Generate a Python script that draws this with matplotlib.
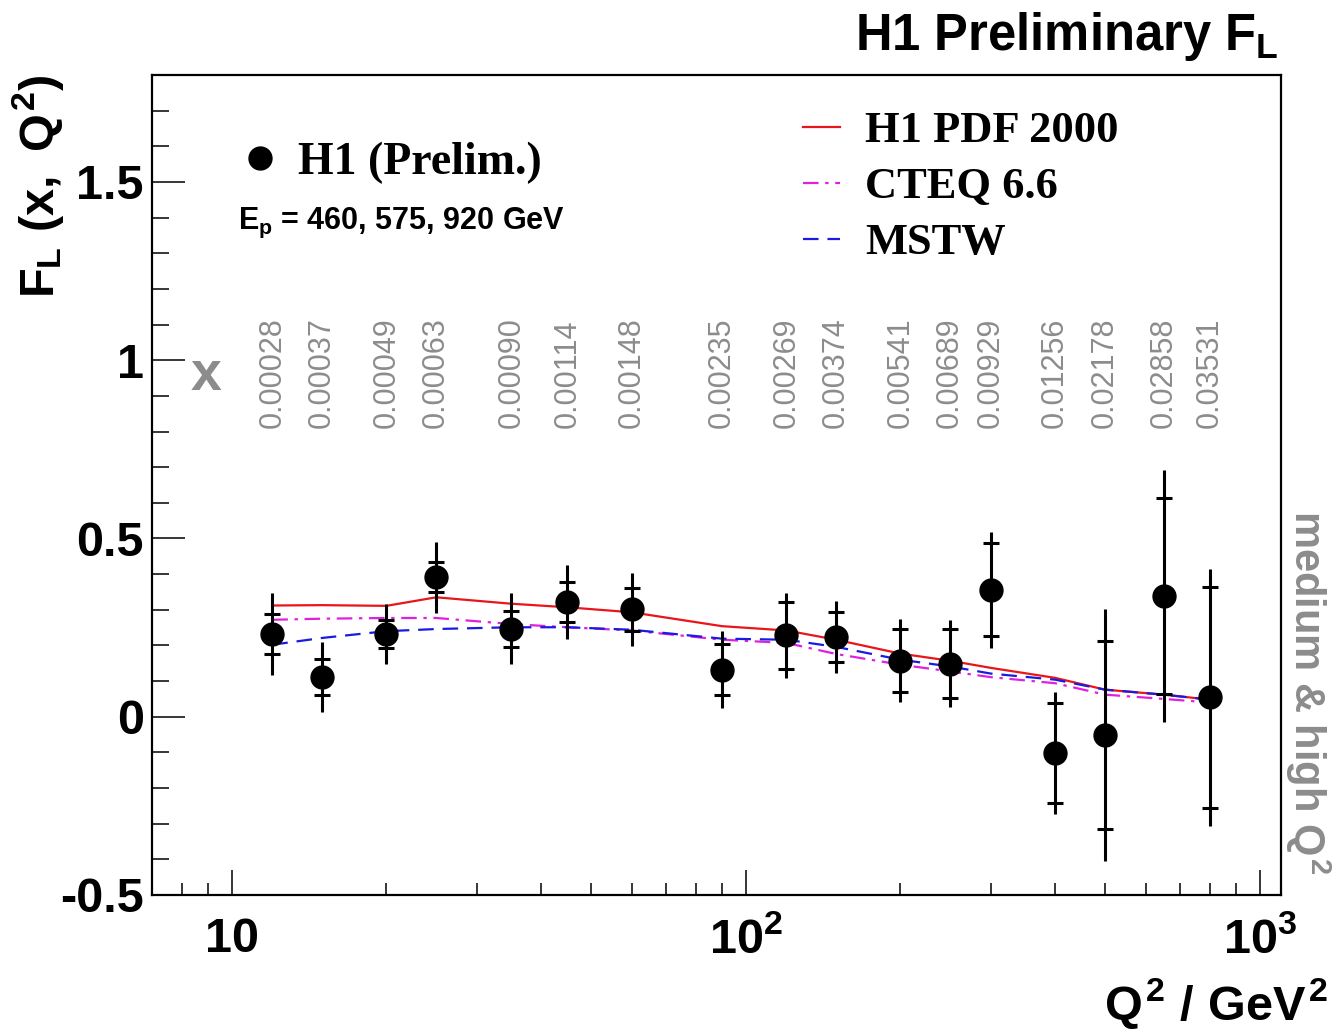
import matplotlib
matplotlib.use('Agg')
from matplotlib import pyplot as plt

# H1 preliminary F_L, medium & high Q2
q2 = [12, 15, 20, 25, 35, 45, 60, 90, 120, 150, 200, 250, 300, 400, 500, 650, 800]
fl = [0.233, 0.111, 0.232, 0.391, 0.247, 0.322, 0.301, 0.132, 0.228, 0.224,
      0.157, 0.149, 0.356, -0.102, -0.051, 0.338, 0.054]
stat = [0.056, 0.051, 0.040, 0.042, 0.050, 0.056, 0.060, 0.071, 0.094, 0.070,
        0.088, 0.096, 0.130, 0.140, 0.264, 0.275, 0.310]
tot = [0.115, 0.099, 0.085, 0.099, 0.100, 0.103, 0.103, 0.108, 0.120, 0.100,
       0.116, 0.123, 0.163, 0.170, 0.353, 0.353, 0.360]
xbj = ['0.00028', '0.00037', '0.00049', '0.00063', '0.00090', '0.00114', '0.00148',
       '0.00235', '0.00269', '0.00374', '0.00541', '0.00689', '0.00929', '0.01256',
       '0.02178', '0.02858', '0.03531']

h1pdf = [0.312, 0.313, 0.311, 0.335, 0.317, 0.307, 0.293, 0.254, 0.242, 0.216,
         0.177, 0.157, 0.137, 0.109, 0.076, 0.062, 0.048]
cteq = [0.272, 0.275, 0.277, 0.277, 0.260, 0.251, 0.242, 0.216, 0.207, 0.176,
        0.146, 0.127, 0.111, 0.094, 0.062, 0.050, 0.040]
mstw = [0.202, 0.221, 0.240, 0.246, 0.251, 0.251, 0.244, 0.219, 0.216, 0.196,
        0.160, 0.141, 0.121, 0.104, 0.076, 0.062, 0.048]

yticks = [-0.5, 0, 0.5, 1, 1.5]
yticklabels = ['-0.5', '0', '0.5', '1', '1.5']
xticks = [10, 100, 1000]
xticklabels = ['10', r'$10^{2}$', r'$10^{3}$']

plt.rcParams['font.family'] = 'Liberation Sans'
plt.rcParams['font.weight'] = 'bold'
plt.rcParams['mathtext.fontset'] = 'custom'
plt.rcParams['mathtext.rm'] = 'Liberation Sans:bold'
plt.rcParams['mathtext.it'] = 'Liberation Sans:bold'
plt.rcParams['mathtext.bf'] = 'Liberation Sans:bold'

W, H = 1334, 1033
fig = plt.figure(figsize=(W / 100, H / 100), dpi=100)
ax = fig.add_axes([152 / W, 1 - 895 / H, (1281 - 152) / W, (895 - 75) / H])

l1, = ax.plot(q2, h1pdf, color='#e8161b', lw=1.6, label='H1 PDF 2000')
l2, = ax.plot(q2, cteq, color='#e020e0', lw=1.6, ls=(0, (7, 3, 1.5, 3)), label='CTEQ 6.6')
l3, = ax.plot(q2, mstw, color='#1a1ae0', lw=1.6, ls=(0, (7, 4)), label='MSTW')

ax.errorbar(q2, fl, yerr=tot, fmt='none', ecolor='black', elinewidth=2.2, capsize=0)
ax.errorbar(q2, fl, yerr=stat, fmt='none', ecolor='black', elinewidth=0,
            capsize=6, capthick=2.2)
pts, = ax.plot(q2, fl, 'o', color='black', ms=16.5, ls='none', label='H1 (Prelim.)')

ax.set_xscale('log')
ax.set_xlim(7, 1100)
ax.set_ylim(-0.5, 1.8)
ax.set_yticks(yticks)
ax.set_yticklabels(yticklabels)
ax.set_yticks([v / 10 for v in range(-4, 18) if v % 5 != 0], minor=True)
ax.set_xticks(xticks)
ax.set_xticklabels(xticklabels)

ax.tick_params(axis='y', which='major', direction='in', length=24, width=1.1,
               labelsize=35, pad=6)
ax.tick_params(axis='y', which='minor', direction='in', length=12, width=1.1)
ax.tick_params(axis='x', which='major', direction='in', length=18, width=1.1,
               labelsize=35, pad=16)
ax.tick_params(axis='x', which='minor', direction='in', length=9, width=1.1)
for s in ax.spines.values():
    s.set_linewidth(1.6)

# x values above each point
for q, lab in zip(q2, xbj):
    ax.text(q, 0.81, lab, rotation=90, ha='center', va='bottom', fontsize=22,
            color='#8c8c8c', fontweight='normal')
ax.text(8.9, 0.955, 'x', ha='center', va='center', fontsize=40, color='#8c8c8c',
        fontweight='bold')

leg1 = ax.legend(handles=[pts], loc='upper left', bbox_to_anchor=((242 - 152) / 1129, (895 - 142) / 820),
                 frameon=False, borderpad=0, borderaxespad=0, handlelength=0.8,
                 handletextpad=0.42, prop=dict(family='Liberation Serif', weight='bold', size=33))
ax.add_artist(leg1)
ax.legend(handles=[l1, l2, l3], loc='upper left',
          bbox_to_anchor=((803 - 152) / 1129, (895 - 111) / 820),
          frameon=False, borderpad=0, borderaxespad=0, handlelength=0.84,
          handletextpad=0.55, labelspacing=0.36,
          prop=dict(family='Liberation Serif', weight='bold', size=32))
ax.text((238 - 152) / 1129, (895 - 223) / 820, r'$E_{p}$ = 460, 575, 920 GeV',
        transform=ax.transAxes, ha='left', va='center', fontsize=22)

fig.text(1278 / W, 1 - 50 / H, r'H1 Preliminary $F_{L}$', ha='right', va='baseline',
         fontsize=36.5)
fig.text(38 / W, 1 - 75 / H, r'$F_{L}\ (x,\ Q^{2})$', rotation=90, ha='center', va='top',
         fontsize=35)
fig.text(1328 / W, 1 - 1031 / H, r'$Q^{2}\ /\ GeV^{2}$', ha='right', va='bottom',
         fontsize=35)
fig.text(1308 / W, 1 - 692 / H, r'medium & high $Q^{2}$', rotation=-90, ha='center',
         va='center', fontsize=30, color='#8c8c8c')

fig.savefig('out.png', dpi=100)
